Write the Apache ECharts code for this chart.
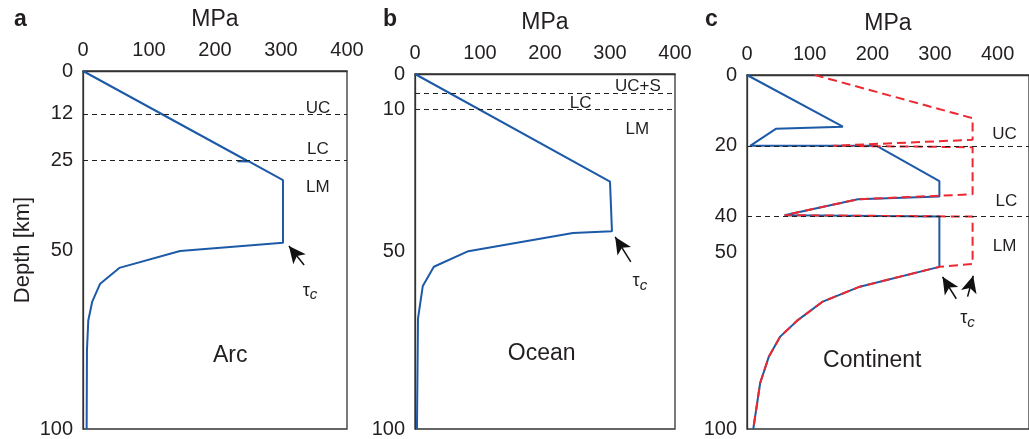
<!DOCTYPE html>
<html>
<head>
<meta charset="utf-8">
<script src="https://cdn.jsdelivr.net/npm/echarts@6/dist/echarts.min.js"></script>
<style>
  html, body { margin: 0; padding: 0; background: #fff; }
  #chart { width: 1029px; height: 439px; }
</style>
</head>
<body>
<div id="chart"></div>
<script>
// strength profiles: stress [MPa] vs depth [km]
var arcStress = [0, 248, 234, 252, 303, 303, 147, 55, 26, 14, 8, 6, 5.5];
var arcDepth  = [0, 25, 25.2, 25.3, 30.5, 48, 50.3, 55, 59.4, 64.4, 69.7, 78, 100];

var oceanStress = [0, 300, 303, 243, 82, 29, 12, 4.6, 3];
var oceanDepth  = [0, 30.3, 44.3, 44.8, 49.9, 54.3, 59.7, 68.9, 100];

var contStress = [0, 153, 46, 5, 207, 307, 307, 177, 60, 307, 307, 180, 121, 80, 53, 35, 21, 10];
var contDepth  = [0, 14.6, 15.2, 20, 20, 30, 34.3, 35.1, 39.6, 40, 54.2, 59.8, 64, 69.4, 73.9, 79.5, 87, 100];

var contRedStress = [108, 360, 360, 137, 360, 360, 177, 60, 360, 360, 307, 180, 121, 80, 53, 35, 21, 10];
var contRedDepth  = [0, 12.2, 18.3, 20, 20.4, 33.7, 35.1, 39.6, 40, 53.4, 54.2, 59.8, 64, 69.4, 73.9, 79.5, 87, 100];

// tick labels
var stressTicks = [0, 100, 200, 300, 400];
var arcDepthTicks = [0, 12, 25, 50, 100];
var oceanDepthTicks = [0, 10, 50, 100];
var contDepthTicks = [0, 20, 40, 50, 100];

// layer boundaries (dashed)
var arcLayers = [12, 25];
var oceanLayers = [5.3, 10];
var contLayers = [20, 40];

// text notes [stress, depth, text]
var arcNotes = [[356, 10.3, 'UC'], [356, 22, 'LC'], [356, 32.5, 'LM'], [223, 79.4, 'Arc']];
var oceanNotes = [[343, 3.4, 'UC+S'], [255, 8.4, 'LC'], [342, 15.7, 'LM'], [195, 78.7, 'Ocean']];
var contNotes = [[411, 16.9, 'UC'], [414, 35.7, 'LC'], [411, 48.3, 'LM'], [200, 80.6, 'Continent']];
var tauNotes = [[344, 61.4], [346, 58.3], [352, 68.8]];

// arrows [from, to]
var arcArrows = [[[335, 54.2], [312, 48.9]]];
var oceanArrows = [[[332, 52.9], [308, 45.9]]];
var contArrows = [[[334, 63.2], [312, 57]], [[352, 62.6], [361, 56.7]]];

var FONT = 'Liberation Sans, Arial, Helvetica, sans-serif';
var TXT = '#231f20';
var BLUE = '#1c5aa8';
var RED = '#ec2830';

function zip(xs, ys) {
    var out = [];
    for (var i = 0; i < xs.length; i++) out.push([xs[i], ys[i]]);
    return out;
}

function xAxisFor(idx, max) {
    return {
        gridIndex: idx, type: 'value', position: 'top', min: 0, max: max,
        name: 'MPa', nameLocation: 'middle', nameGap: 40,
        nameTextStyle: { fontFamily: FONT, fontSize: 23, color: TXT },
        axisLine: { show: true, lineStyle: { color: '#333', width: 1.3 } },
        axisTick: { show: false },
        splitLine: { show: false },
        axisLabel: { customValues: stressTicks, margin: 11, fontFamily: FONT, fontSize: 20, color: TXT }
    };
}

function yAxisFor(idx, ticks, name) {
    return {
        gridIndex: idx, type: 'value', inverse: true, min: 0, max: 100,
        name: name || '', nameLocation: 'middle', nameGap: 49,
        nameTextStyle: { fontFamily: FONT, fontSize: 22, color: TXT },
        axisLine: { show: true, lineStyle: { color: '#333', width: 1.3 } },
        axisTick: { show: false },
        splitLine: { show: false },
        axisLabel: { customValues: ticks, margin: 10, fontFamily: FONT, fontSize: 20, color: TXT }
    };
}

function profile(idx, xs, ys, color, dashed) {
    return {
        type: 'line', xAxisIndex: idx, yAxisIndex: idx, data: zip(xs, ys),
        symbol: 'none', silent: true, z: dashed ? 4 : 3,
        lineStyle: { color: color, width: 2, type: dashed ? [9, 5] : 'solid' }
    };
}

function notes(idx, items, arrows, layers, tau) {
    var data = items.map(function (n) {
        var big = n[2] === 'Arc' || n[2] === 'Ocean' || n[2] === 'Continent';
        return {
            value: [n[0], n[1]],
            label: { formatter: n[2], fontSize: big ? 23 : 17, color: TXT }
        };
    });
    data.push({
        value: tau,
        label: {
            formatter: '{t|τ}{c|c}',
            rich: {
                t: { fontSize: 18, fontFamily: FONT, color: TXT },
                c: { fontSize: 15, fontStyle: 'italic', fontFamily: FONT, color: TXT, padding: [9, 0, 0, 0] }
            }
        }
    });
    var lines = layers.map(function (d) {
        return { yAxis: d, lineStyle: { type: [5, 4], color: '#222', width: 1 }, symbol: 'none' };
    });
    arrows.forEach(function (a) {
        lines.push([
            { coord: a[0], symbol: 'none' },
            { coord: a[1], symbol: 'arrow', symbolSize: [12, 17] }
        ]);
    });
    return {
        type: 'scatter', xAxisIndex: idx, yAxisIndex: idx, data: data,
        symbol: 'circle', symbolSize: 0.1, silent: true, z: 5,
        itemStyle: { color: TXT, opacity: 1 },
        label: {
            show: true, position: [0, 0], align: 'center', verticalAlign: 'middle',
            fontFamily: FONT, color: TXT, opacity: 1
        },
        markLine: {
            silent: true, symbol: 'none', animation: false,
            label: { show: false },
            lineStyle: { color: '#111', width: 1.5, type: 'solid', opacity: 1 },
            data: lines
        }
    };
}

var chart = echarts.init(document.getElementById('chart'));
var option = {
    animation: false,
    backgroundColor: '#fff',
    title: [
        { text: 'a', left: 9, top: 3, textStyle: { fontFamily: FONT, fontSize: 23, fontWeight: 'bold', color: TXT } },
        { text: 'b', left: 378, top: 3, textStyle: { fontFamily: FONT, fontSize: 23, fontWeight: 'bold', color: TXT } },
        { text: 'c', left: 700, top: 3, textStyle: { fontFamily: FONT, fontSize: 23, fontWeight: 'bold', color: TXT } }
    ],
    grid: [
        { left: 83, top: 71, width: 264, height: 360, show: true, borderColor: '#333', borderWidth: 1.3 },
        { left: 415, top: 74, width: 260, height: 357, show: true, borderColor: '#333', borderWidth: 1.3 },
        { left: 747, top: 75, width: 282, height: 356, show: true, borderColor: '#333', borderWidth: 1.3 }
    ],
    xAxis: [xAxisFor(0, 400), xAxisFor(1, 400), xAxisFor(2, 450)],
    yAxis: [yAxisFor(0, arcDepthTicks, 'Depth [km]'), yAxisFor(1, oceanDepthTicks), yAxisFor(2, contDepthTicks)],
    series: [
        profile(0, arcStress, arcDepth, BLUE, false),
        profile(1, oceanStress, oceanDepth, BLUE, false),
        profile(2, contStress, contDepth, BLUE, false),
        profile(2, contRedStress, contRedDepth, RED, true),
        notes(0, arcNotes, arcArrows, arcLayers, tauNotes[0]),
        notes(1, oceanNotes, oceanArrows, oceanLayers, tauNotes[1]),
        notes(2, contNotes, contArrows, contLayers, tauNotes[2])
    ]
};
chart.setOption(option);
</script>
</body>
</html>
